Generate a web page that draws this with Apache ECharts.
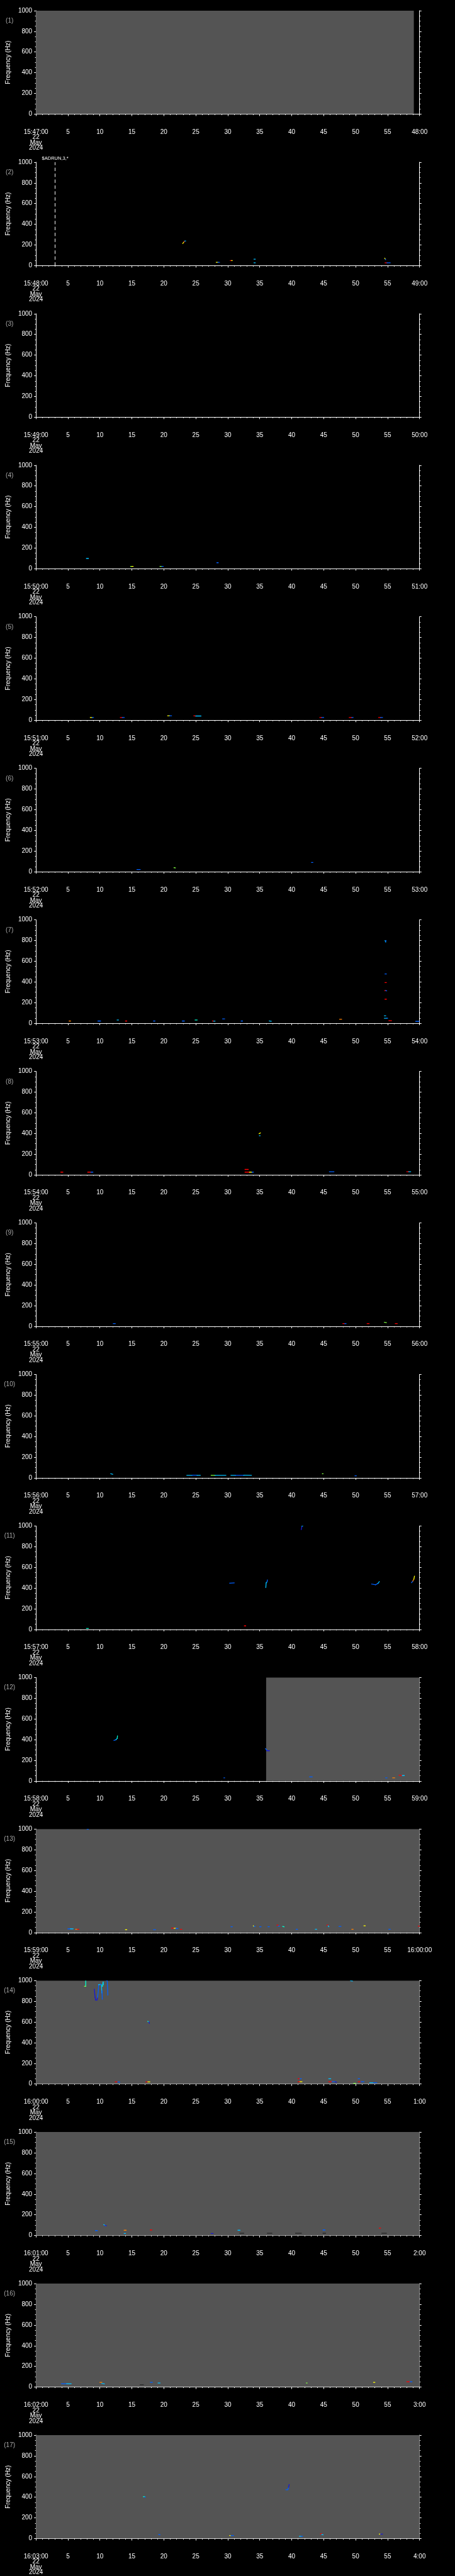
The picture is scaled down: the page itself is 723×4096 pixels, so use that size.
<!DOCTYPE html>
<html>
<head>
<meta charset="utf-8">
<script src="https://cdn.jsdelivr.net/npm/echarts@6/dist/echarts.min.js"></script>
<style>
  html, body { margin: 0; padding: 0; background: #000; }
  #chart { width: 723px; height: 4096px; }
</style>
</head>
<body>
<div id="chart"></div>
<script>
// one panel per minute, 22 May 2024
const panelStarts = ['15:47:00', '15:48:00', '15:49:00', '15:50:00', '15:51:00', '15:52:00',
  '15:53:00', '15:54:00', '15:55:00', '15:56:00', '15:57:00', '15:58:00', '15:59:00',
  '16:00:00', '16:01:00', '16:02:00', '16:03:00'];
const panelEnds = ['48:00', '49:00', '50:00', '51:00', '52:00', '53:00', '54:00', '55:00',
  '56:00', '57:00', '58:00', '59:00', '16:00:00', '1:00', '2:00', '3:00', '4:00'];
const dateLines = ['22', 'May', '2024'];
const secondTicks = [0, 60, 5];      // min, max, step (seconds)
const freqTicks = [0, 1000, 200];    // min, max, step (Hz)

// grey "no data" spans: [panel, from s, to s]
const greySpans = [[0, 0, 59.1], [11, 36, 60], [12, 0, 60], [13, 0, 60], [14, 0, 60], [15, 0, 60], [16, 0, 60]];

// event marker: panel, second, text
const eventPanel = 1;
const eventSecond = 3;
const eventText = '$ADRUN,3,*';

// colour scale of the traces
const traceColours = ['#1818d8', '#0060ff', '#00c0ff', '#00ffd0', '#80ff40', '#ffff00', '#ff8000', '#ff0000', '#2a2a2a'];

// traces per panel: [t0, f0, t1, f1, colour]
const p01 = [];
const p02 = [[22.96, 215, 23.15, 230, 5], [23.15, 230, 23.25, 236, 7], [23.25, 237, 23.4, 238, 2],
  [28.2, 32, 28.45, 32, 5], [28.45, 32, 28.7, 32, 1], [30.4, 49, 30.6, 49, 7], [30.6, 49, 30.7, 49, 5],
  [34.1, 62, 34.3, 62, 2], [34.1, 28, 34.3, 28, 2],
  [54.55, 72, 54.65, 62, 5], [54.65, 62, 54.7, 58, 1], [54.6, 28, 54.9, 28, 7], [54.9, 28, 55.4, 28, 1]];
const p03 = [];
const p04 = [[7.9, 99, 8.2, 99, 2], [14.8, 22, 15.0, 22, 4], [15.0, 22, 15.2, 22, 5],
  [19.4, 22, 19.7, 22, 4], [19.7, 22, 19.9, 22, 1], [28.3, 58, 28.5, 58, 1]];
const p05 = [[8.5, 26, 8.8, 26, 5], [8.8, 26, 9.0, 26, 1], [13.2, 26, 13.5, 26, 7], [13.5, 26, 13.8, 26, 1],
  [20.6, 43, 20.9, 43, 5], [20.9, 43, 21.2, 43, 1], [24.7, 43, 25.0, 41, 7], [25.0, 41, 25.8, 41, 2],
  [44.4, 26, 44.7, 26, 7], [44.7, 26, 45.0, 26, 1], [49.0, 26, 49.4, 26, 7], [49.4, 26, 49.6, 26, 1],
  [53.6, 26, 53.9, 26, 7], [53.9, 26, 54.2, 26, 1]];
const p06 = [[15.8, 22, 16.3, 22, 1], [21.6, 39, 21.8, 37, 4], [43.1, 90, 43.3, 90, 1]];
const p07 = [[5.2, 22, 5.4, 22, 6], [9.7, 22, 10.1, 22, 1], [12.7, 32, 12.9, 32, 2], [14.0, 22, 14.2, 22, 7],
  [18.4, 22, 18.6, 22, 1], [22.9, 22, 23.2, 22, 1], [24.9, 32, 25.2, 32, 3], [27.6, 22, 27.8, 21, 7],
  [27.8, 21, 28.0, 21, 2], [29.2, 43, 29.5, 43, 1], [32.1, 22, 32.3, 22, 1], [36.5, 22, 36.8, 20, 2],
  [47.5, 39, 47.8, 39, 6], [54.5, 73, 54.7, 73, 2], [54.5, 49, 54.9, 49, 2], [54.9, 49, 55.0, 49, 1],
  [55.2, 26, 55.6, 26, 7], [59.4, 19, 59.9, 19, 1],
  [54.6, 800, 54.7, 785, 2], [54.7, 790, 54.75, 800, 1], [54.6, 477, 54.8, 477, 1], [54.6, 393, 54.8, 393, 7],
  [54.55, 316, 54.7, 316, 7], [54.7, 316, 54.85, 314, 1], [54.6, 233, 54.8, 233, 7]];
const p08 = [[3.9, 26, 4.2, 26, 7], [8.1, 26, 8.6, 26, 7], [8.6, 26, 8.9, 26, 1], [32.7, 52, 33.2, 52, 7],
  [32.7, 26, 33.4, 26, 7], [33.4, 26, 33.8, 26, 5], [33.8, 26, 34.0, 26, 1], [34.9, 398, 35.1, 405, 5],
  [34.95, 378, 35.05, 378, 2], [45.9, 30, 46.6, 30, 1], [58.0, 30, 58.3, 30, 7], [58.3, 30, 58.6, 30, 2]];
const p09 = [[12.1, 26, 12.4, 26, 1], [48.0, 26, 48.3, 26, 7], [48.3, 26, 48.5, 26, 1], [51.8, 26, 52.1, 26, 7],
  [54.5, 39, 54.8, 36, 4], [56.2, 26, 56.5, 26, 7]];
const p10 = [[11.7, 40, 12.0, 35, 2], [23.6, 25, 24.4, 25, 2], [24.4, 26, 25.2, 26, 1], [25.2, 25, 25.7, 25, 2],
  [27.4, 25, 28.0, 25, 4], [28.0, 25, 29.7, 25, 2], [30.5, 25, 31.2, 25, 2], [31.2, 25, 32.5, 25, 1],
  [32.5, 26, 33.7, 25, 2], [44.8, 40, 44.9, 40, 4], [49.9, 20, 50.1, 20, 1]];
const p11 = [[7.9, 9, 8.2, 9, 3], [30.3, 447, 31.0, 450, 1], [32.6, 34, 32.8, 34, 7],
  [35.95, 405, 36.0, 450, 2], [36.0, 450, 36.15, 460, 2], [36.15, 460, 36.2, 478, 1],
  [41.5, 965, 41.6, 998, 0], [41.6, 998, 41.75, 1000, 2],
  [52.5, 438, 53.1, 432, 1], [53.1, 432, 53.5, 445, 1], [53.5, 445, 53.7, 462, 2],
  [58.75, 452, 58.95, 468, 1], [58.95, 468, 59.1, 485, 6], [59.1, 485, 59.2, 515, 5]];
const p12 = [[12.2, 392, 12.5, 398, 1], [12.5, 398, 12.7, 410, 2], [12.7, 410, 12.75, 435, 3],
  [35.9, 312, 36.1, 300, 1], [36.1, 292, 36.5, 292, 0], [29.4, 30, 29.5, 30, 1], [42.8, 39, 43.2, 39, 1],
  [54.7, 30, 54.9, 30, 1], [55.8, 30, 56.1, 30, 6], [56.8, 55, 57.3, 52, 7], [57.3, 52, 57.6, 52, 2]];
const p13 = [[8.0, 998, 8.2, 998, 1], [5.0, 35, 5.4, 35, 1], [5.4, 35, 5.8, 35, 2], [6.2, 31, 6.5, 31, 6],
  [6.5, 31, 6.7, 31, 7], [14.0, 27, 14.2, 27, 5], [18.4, 27, 18.7, 27, 1], [21.2, 42, 21.6, 42, 7],
  [21.6, 40, 21.9, 40, 5], [21.9, 38, 22.2, 38, 1], [22.6, 31, 22.8, 31, 7], [30.5, 56, 30.7, 56, 1],
  [34.0, 65, 34.1, 58, 5], [34.1, 58, 34.3, 58, 1], [35.0, 56, 35.2, 56, 1], [36.3, 56, 36.5, 56, 1],
  [37.7, 72, 37.9, 68, 7], [37.9, 61, 38.1, 61, 1], [38.6, 58, 38.8, 55, 3], [40.7, 31, 40.9, 31, 1],
  [43.7, 31, 43.9, 31, 2], [45.5, 71, 45.7, 71, 7], [45.7, 65, 45.8, 56, 2], [47.4, 58, 47.7, 58, 1],
  [49.4, 31, 49.6, 31, 6], [51.3, 65, 51.5, 65, 5], [55.2, 31, 55.4, 31, 1], [59.8, 61, 59.95, 61, 7]];
const p14 = [[7.78, 944, 7.78, 1000, 3], [7.6, 944, 7.78, 944, 4],
  [9.13, 916, 9.25, 837, 0], [9.25, 837, 9.33, 812, 0], [9.33, 812, 9.53, 812, 0], [9.53, 812, 9.65, 837, 0],
  [9.65, 837, 9.77, 920, 1], [9.77, 920, 9.8, 960, 1], [9.8, 960, 10.1, 962, 2], [10.1, 962, 10.25, 958, 1],
  [10.25, 958, 10.3, 880, 2], [10.33, 900, 10.37, 820, 1], [10.4, 944, 10.5, 986, 3], [10.5, 986, 10.55, 960, 2],
  [11.0, 1000, 11.1, 1000, 1], [11.15, 1000, 11.25, 860, 1],
  [17.5, 605, 17.65, 600, 3], [17.65, 600, 17.75, 587, 0],
  [12.4, 20, 12.8, 20, 7], [12.8, 20, 13.1, 18, 1], [17.2, 20, 17.5, 20, 7], [17.5, 20, 17.8, 20, 5],
  [41.0, 50, 41.3, 50, 7], [41.3, 50, 41.5, 50, 1], [41.0, 22, 41.3, 22, 7], [41.3, 22, 41.6, 22, 5],
  [45.8, 50, 46.1, 50, 2], [45.8, 22, 46.3, 22, 7], [46.3, 22, 46.8, 22, 1], [46.8, 20, 47.0, 18, 0],
  [49.2, 998, 49.5, 995, 2], [49.7, 6, 50.0, 6, 4], [50.4, 50, 50.6, 50, 1], [50.4, 22, 50.8, 22, 7],
  [50.8, 22, 51.3, 22, 1], [52.2, 12, 52.8, 12, 2], [52.8, 12, 53.3, 12, 1]];
const p15 = [[9.3, 48, 9.6, 48, 1], [10.6, 105, 10.9, 95, 2], [10.8, 97, 11.0, 95, 0], [13.8, 51, 14.1, 51, 6],
  [13.8, 20, 14.0, 20, 2], [17.9, 54, 18.1, 54, 7], [27.4, 20, 27.7, 20, 0], [31.6, 51, 31.9, 51, 2],
  [44.9, 54, 45.2, 54, 1], [53.7, 71, 53.9, 71, 7],
  [31.9, 22, 32.5, 22, 8], [36.2, 22, 36.9, 22, 8], [40.6, 22, 41.5, 22, 8], [44.9, 22, 45.3, 22, 8], [54.1, 22, 54.8, 22, 8]];
const p16 = [[4.0, 31, 4.8, 31, 1], [4.8, 31, 5.5, 31, 2], [10.0, 45, 10.3, 45, 6], [10.3, 35, 10.7, 31, 2],
  [16.3, 22, 16.8, 22, 8], [17.9, 45, 18.2, 45, 1], [19.1, 39, 19.4, 39, 2], [42.3, 39, 42.4, 39, 4],
  [52.8, 45, 53.0, 45, 5], [58.0, 51, 58.5, 51, 7], [58.5, 51, 58.8, 51, 1]];
const p17 = [[16.8, 405, 17.0, 405, 3], [17.0, 400, 17.1, 400, 1], [19.2, 40, 19.4, 37, 1],
  [30.3, 30, 30.5, 30, 5], [30.5, 30, 30.9, 30, 1], [39.1, 472, 39.4, 472, 1], [39.4, 475, 39.5, 495, 1],
  [39.5, 495, 39.6, 522, 0], [41.2, 22, 41.5, 22, 2], [41.5, 22, 41.7, 22, 1], [44.5, 46, 44.7, 46, 7],
  [44.7, 40, 44.9, 37, 2], [53.7, 43, 53.9, 43, 5], [53.9, 43, 54.2, 43, 0]];
const panelTraces = [p01, p02, p03, p04, p05, p06, p07, p08, p09, p10, p11, p12, p13, p14, p15, p16, p17];

// ---- layout (reference px * S) ----
const W = 723, Htot = 4096;
const S = W / 1024;
const PH = Htot / panelStarts.length;
const FONT = 'Liberation Sans';

const chart = echarts.init(document.getElementById('chart'), null, { renderer: 'canvas' });

const grids = [], xAxes = [], yAxes = [], series = [], graphics = [];

function renderTrace(params, api) {
  const a = api.coord([api.value(0), api.value(1)]);
  const b = api.coord([api.value(2), api.value(3)]);
  return {
    type: 'line',
    shape: { x1: a[0], y1: a[1], x2: b[0], y2: b[1] },
    style: { stroke: traceColours[api.value(4)], lineWidth: 1.3, lineCap: 'square' }
  };
}

function renderGrey(params, api) {
  const a = api.coord([api.value(1), freqTicks[1]]);
  const b = api.coord([api.value(2), freqTicks[0]]);
  return {
    type: 'rect',
    shape: { x: a[0], y: a[1], width: b[0] - a[0], height: b[1] - a[1] },
    style: { fill: '#545454' }
  };
}

panelStarts.forEach((start, i) => {
  const top = i * PH;
  grids.push({ left: 80.3 * S, width: 864 * S, top: top + 24 * S, height: 233 * S });

  xAxes.push({
    gridIndex: i, type: 'value', position: 'bottom',
    min: secondTicks[0], max: secondTicks[1], interval: secondTicks[2],
    offset: 24 * S,
    axisLine: { lineStyle: { color: '#fff', width: 1 } },
    axisTick: { inside: false, length: 3, lineStyle: { color: '#fff' } },
    minorTick: { show: true, splitNumber: 5, length: 1.5, lineStyle: { color: '#fff' } },
    splitLine: { show: false },
    axisLabel: {
      color: '#fff', fontFamily: FONT, fontSize: 10, margin: 7.5, lineHeight: 8.5,
      formatter: (v) => {
        if (v === secondTicks[0]) return [start].concat(dateLines).join('\n');
        if (v === secondTicks[1]) return panelEnds[i];
        return String(v);
      }
    }
  });

  const yCommon = {
    gridIndex: i, type: 'value',
    min: freqTicks[0], max: freqTicks[1], interval: freqTicks[2],
    axisLine: { show: true, lineStyle: { color: '#fff', width: 1 } },
    axisTick: { show: true, inside: false, length: 3, lineStyle: { color: '#fff' } },
    minorTick: { show: true, splitNumber: 4, length: 1.5, lineStyle: { color: '#fff' } },
    splitLine: { show: false }
  };
  yAxes.push(Object.assign({}, yCommon, {
    position: 'left',
    name: 'Frequency (Hz)', nameLocation: 'middle', nameRotate: 90, nameGap: 35,
    nameTextStyle: { color: '#fff', fontFamily: FONT, fontSize: 10 },
    axisLabel: { color: '#fff', fontFamily: FONT, fontSize: 10, margin: 6, formatter: (v) => String(v) }
  }));
  yAxes.push(Object.assign({}, yCommon, { position: 'right', axisLabel: { show: false } }));

  const grey = greySpans.filter(g => g[0] === i);
  if (grey.length) {
    series.push({
      type: 'custom', xAxisIndex: i, yAxisIndex: 2 * i, z: 1, silent: true,
      renderItem: renderGrey, data: grey, clip: true
    });
  }

  const s = {
    type: 'custom', xAxisIndex: i, yAxisIndex: 2 * i, z: 2, silent: true,
    renderItem: renderTrace, data: panelTraces[i], clip: true,
    encode: { x: [0, 2], y: [1, 3] }
  };
  if (i === eventPanel) {
    s.markLine = {
      silent: true, symbol: 'none',
      lineStyle: { color: '#fff', type: [5.4, 4], width: 1 },
      label: {
        show: true, position: 'end', distance: 1.5, color: '#fff',
        fontFamily: FONT, fontSize: 7.5, formatter: eventText
      },
      data: [{ xAxis: eventSecond }]
    };
  }
  series.push(s);

  graphics.push({
    type: 'text', x: 21.5 * S, y: top + 47 * S,
    style: {
      text: '(' + (i + 1) + ')', fill: '#a8a8a8', font: '10px ' + FONT,
      textAlign: 'center', textVerticalAlign: 'middle'
    }
  });
});

chart.setOption({
  backgroundColor: '#000',
  animation: false,
  grid: grids,
  xAxis: xAxes,
  yAxis: yAxes,
  series: series,
  graphic: graphics
});
</script>
</body>
</html>
